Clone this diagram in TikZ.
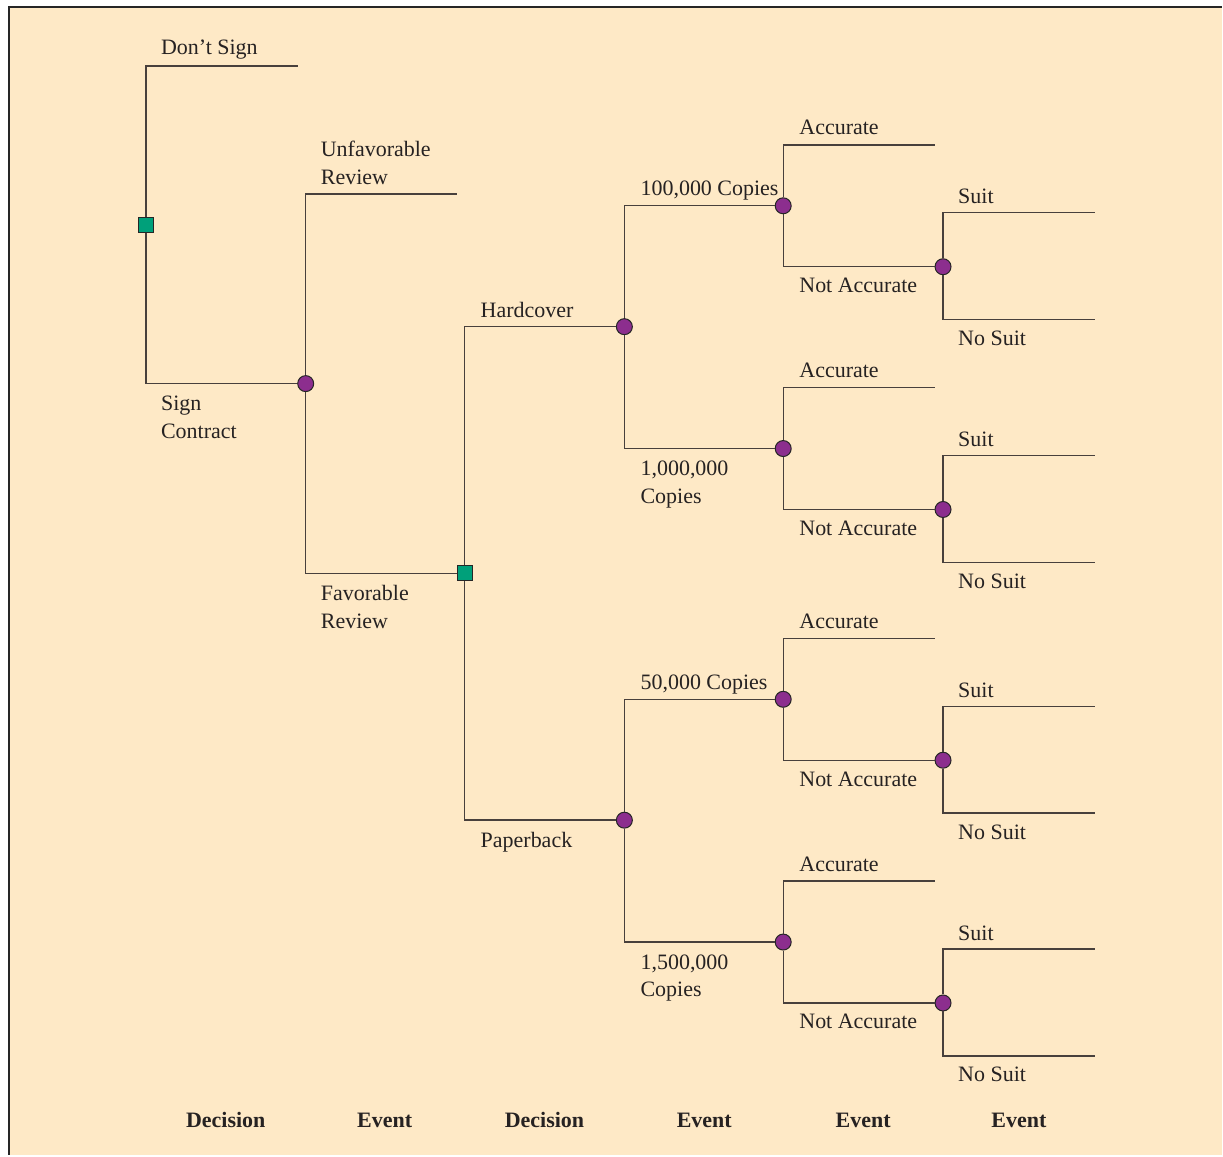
\documentclass[tikz,border=0pt]{standalone}
\usepackage{fontspec}
\setmainfont{Liberation Serif}
\definecolor{peach}{RGB}{254,233,198}
\definecolor{decgreen}{RGB}{0,160,122}
\definecolor{evpurple}{RGB}{140,46,142}
\definecolor{linegray}{RGB}{72,64,60}
\definecolor{textgray}{RGB}{38,34,34}
\begin{document}
\begin{tikzpicture}[x=1pt,y=-1pt,
  branch/.style={draw=linegray, line width=1.4pt},
  decision/.style={rectangle, draw=black!85, line width=1pt, fill=decgreen,
    minimum size=15pt, inner sep=0pt},
  chance/.style={circle, draw=black!85, line width=1pt, fill=evpurple,
    minimum size=16pt, inner sep=0pt},
  lbl/.style={anchor=base west, inner sep=0pt, text=textgray,
    font=\fontsize{22}{28}\selectfont},
  foot/.style={anchor=base, inner sep=0pt, text=textgray,
    font=\fontsize{22}{28}\selectfont\bfseries}]

% page and frame
\fill[white] (0,0) rectangle (1223,1156);
\fill[peach] (9,7) rectangle (1223,1156);
\draw[line width=2.5pt, black!85] (9,1156) -- (9,7) -- (1223,7);
\useasboundingbox (0,0) rectangle (1223,1156);

% decision and chance nodes of the main tree
\node[decision] (d1) at (146,225) {};
\node[chance]   (e1) at (306,384) {};
\node[decision] (d2) at (465,574) {};
\node[chance]   (e2) at (625,327) {};
\node[chance]   (e3) at (625,821) {};
\node[chance]   (qa) at (784,206) {};
\node[chance]   (qb) at (784,449) {};
\node[chance]   (qc) at (784,700) {};
\node[chance]   (qd) at (784,943) {};

% free branch ends
\coordinate (dontsign) at (298,66);
\coordinate (unfav) at (457,194);

% branches
\draw[branch] (d1) |- (dontsign);
\draw[branch] (d1) |- (e1);
\draw[branch] (e1) |- (unfav);
\draw[branch] (e1) |- (d2);
\draw[branch] (d2) |- (e2);
\draw[branch] (d2) |- (e3);
\draw[branch] (e2) |- (qa);
\draw[branch] (e2) |- (qb);
\draw[branch] (e3) |- (qc);
\draw[branch] (e3) |- (qd);

% accuracy and lawsuit sub-trees
\foreach \q/\Y in {qa/206, qb/449, qc/700, qd/943} {
  \coordinate (acc-\q) at (936,\Y-61);
  \node[chance] (na-\q) at (944,\Y+61) {};
  \coordinate (suit-\q) at (1096,\Y+7);
  \coordinate (nosuit-\q) at (1096,\Y+114);
  \draw[branch] (\q) |- (acc-\q);
  \draw[branch] (\q) |- (na-\q);
  \draw[branch] (na-\q) |- (suit-\q);
  \draw[branch] (na-\q) |- (nosuit-\q);
  \node[lbl] (lacc-\q) at (800,\Y-71) {Accurate};
  \node[lbl] (lna-\q) at (800,\Y+87) {Not Accurate};
  \node[lbl] (lsuit-\q) at (959,\Y-2) {Suit};
  \node[lbl] (lnosuit-\q) at (959,\Y+140) {No Suit};
}

% branch labels
\node[lbl] (ldont) at (161,55) {Don’t Sign};
\node[lbl] (lsign1) at (161,411) {Sign};
\node[lbl] (lsign2) at (161,439) {Contract};
\node[lbl] (lunf1) at (321,157) {Unfavorable};
\node[lbl] (lunf2) at (321,185) {Review};
\node[lbl] (lfav1) at (321,601) {Favorable};
\node[lbl] (lfav2) at (321,629) {Review};
\node[lbl] (lhard) at (481,318) {Hardcover};
\node[lbl] (lpaper) at (481,848) {Paperback};
\node[lbl] (lc1) at (641,196) {100,000 Copies};
\node[lbl] (lc2a) at (641,476) {1,000,000};
\node[lbl] (lc2b) at (641,504) {Copies};
\node[lbl] (lc3) at (641,690) {50,000 Copies};
\node[lbl] (lc4a) at (641,970) {1,500,000};
\node[lbl] (lc4b) at (641,998) {Copies};

% stage captions
\node[foot] (s1) at (226,1129) {Decision};
\node[foot] (s2) at (385,1129) {Event};
\node[foot] (s3) at (545,1129) {Decision};
\node[foot] (s4) at (705,1129) {Event};
\node[foot] (s5) at (864,1129) {Event};
\node[foot] (s6) at (1020,1129) {Event};
\end{tikzpicture}
\end{document}
